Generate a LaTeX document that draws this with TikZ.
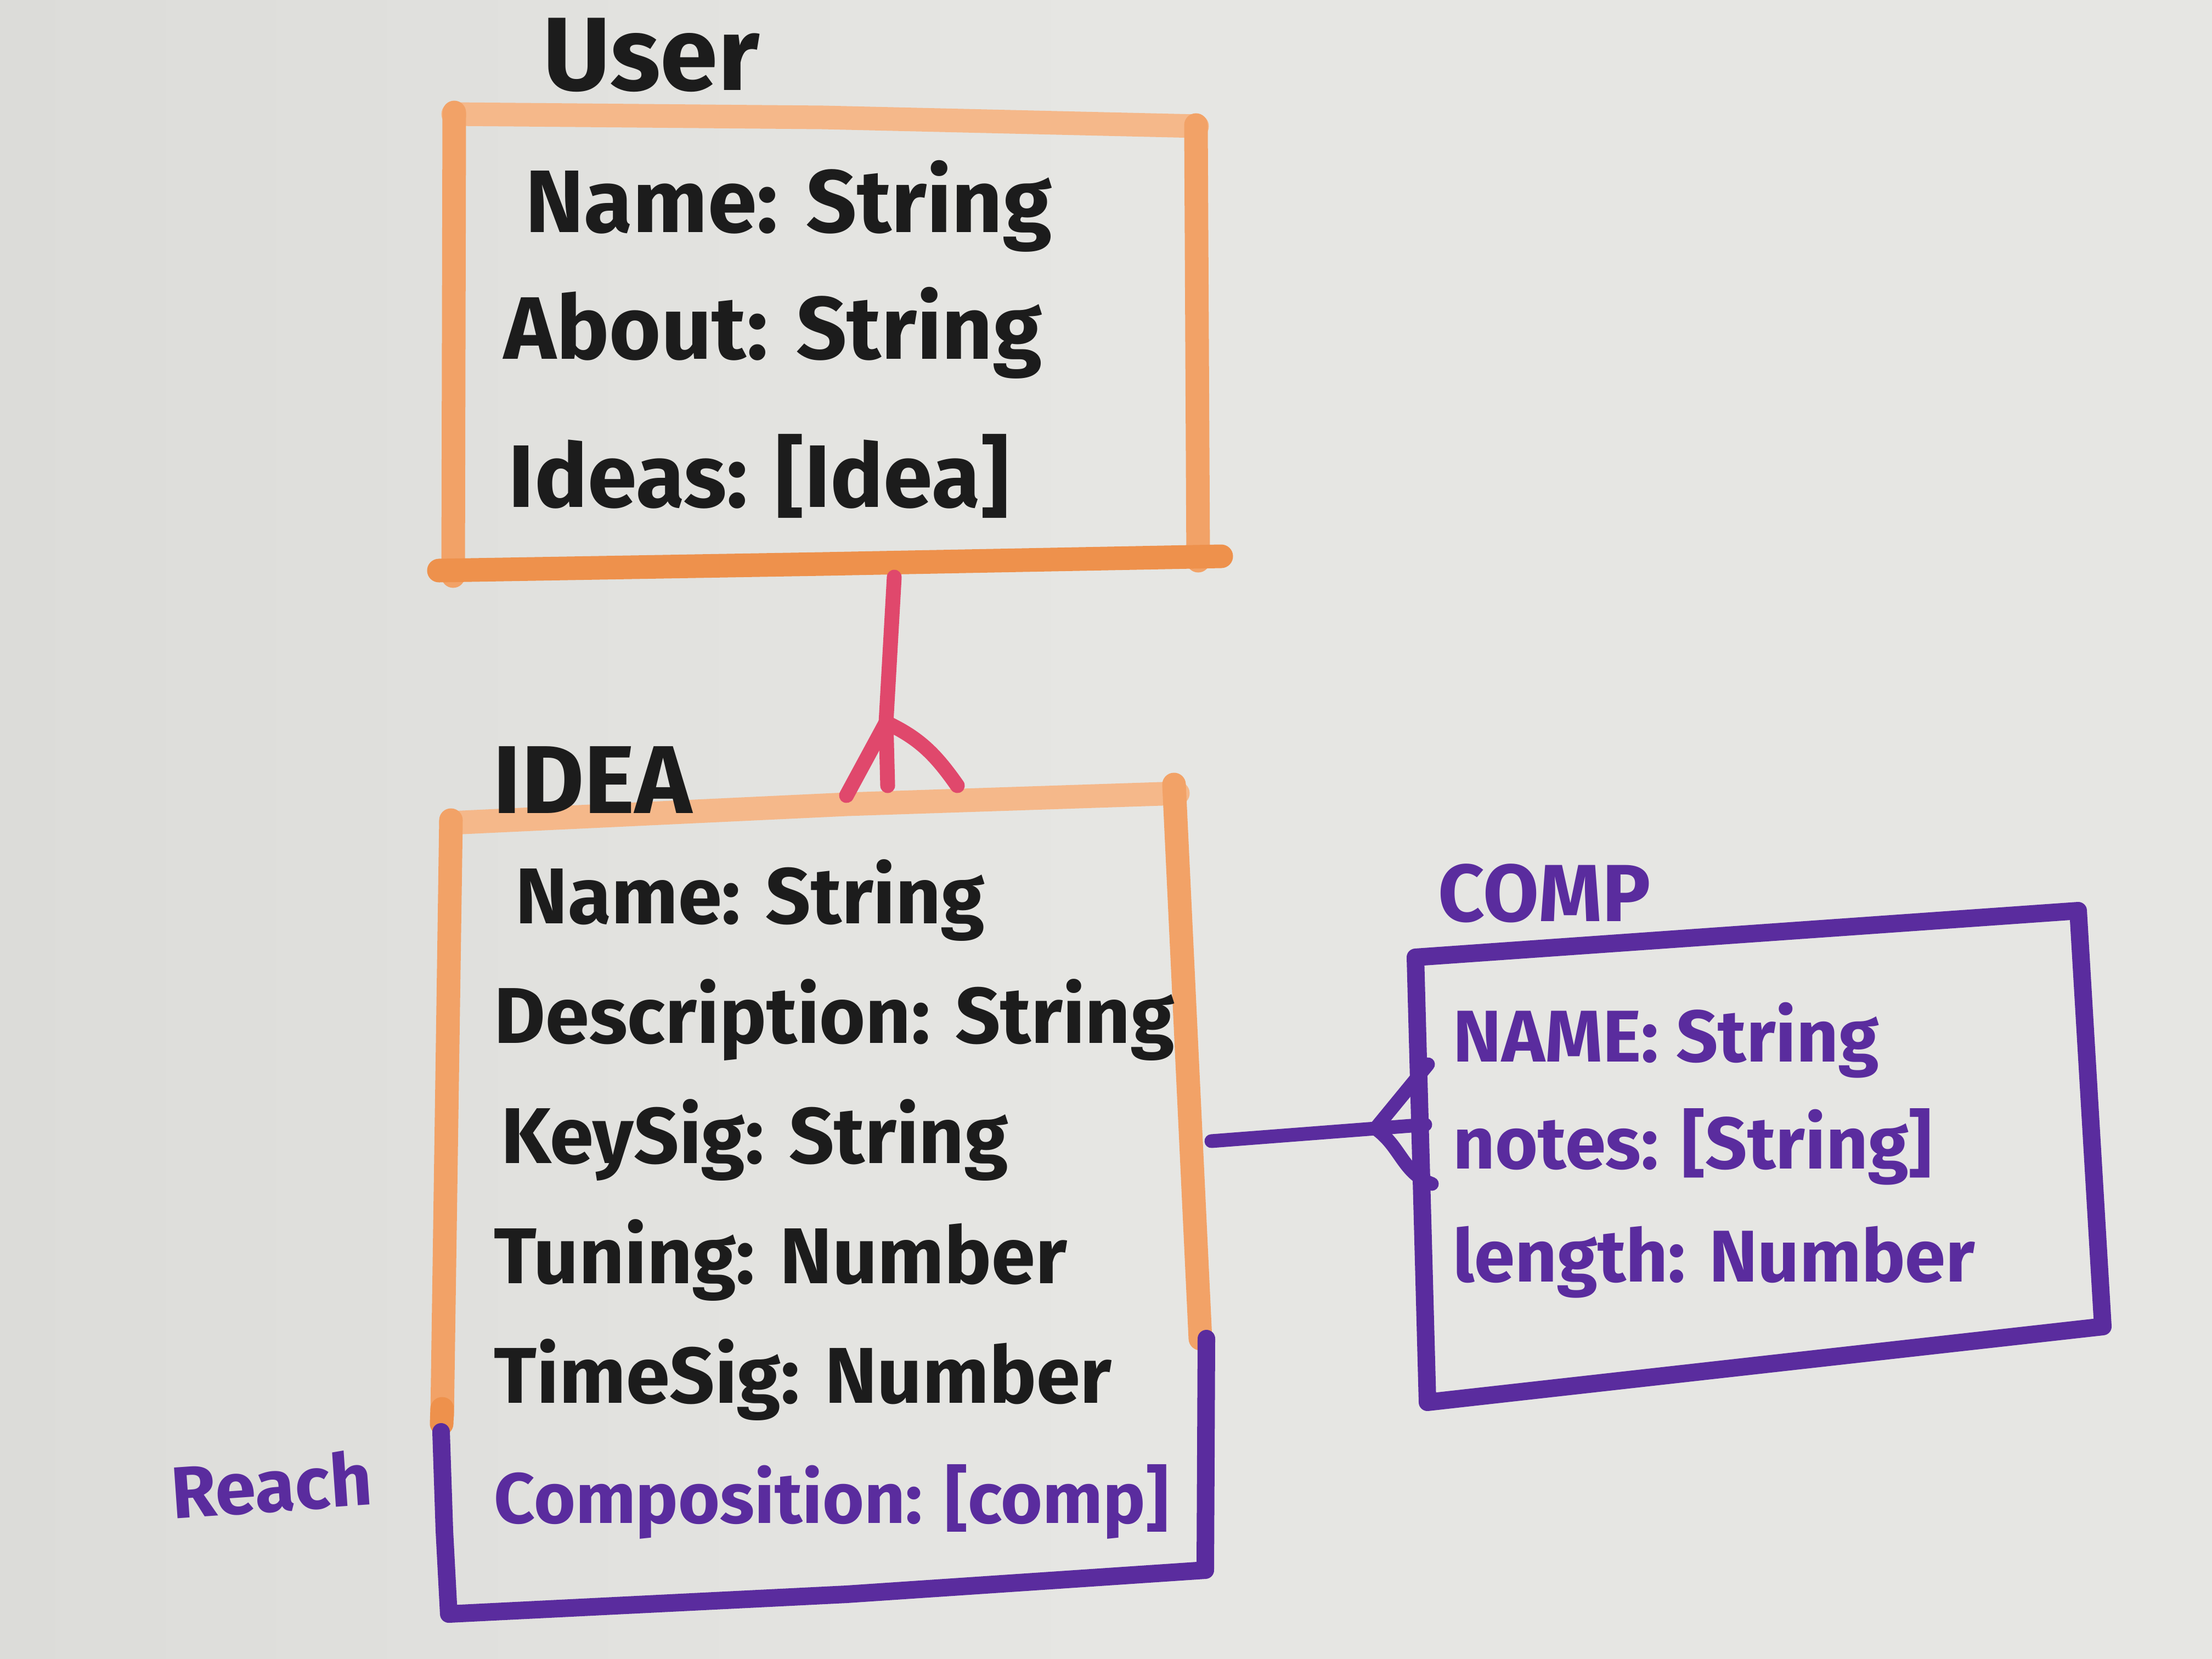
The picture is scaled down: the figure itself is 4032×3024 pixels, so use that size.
\documentclass[tikz,border=0pt]{standalone}
\usepackage{fontspec}
\setmainfont{Fira Sans}
\definecolor{board}{HTML}{E6E6E3}
\definecolor{boardL}{HTML}{DCDCD9}
\definecolor{mkorange}{HTML}{F2A267}
\definecolor{mkorangeL}{HTML}{F5B88A}
\definecolor{mkorangeD}{HTML}{EE914C}
\definecolor{mkpurple}{HTML}{5A2C9E}
\definecolor{mkred}{HTML}{E0486C}
\definecolor{ink}{HTML}{1C1C1C}
\begin{document}
\begin{tikzpicture}[x=0.01cm,y=-0.01cm,
  oline/.style={draw=mkorange, line width=4.3mm, line cap=round, line join=round},
  pline/.style={draw=mkpurple, line width=3.2mm, line cap=round, line join=round},
  pthin/.style={draw=mkpurple, line width=2.5mm, line cap=round, line join=round},
  rline/.style={draw=mkred, line width=2.7mm, line cap=round, line join=round},
  row/.style={anchor=base west, inner sep=0pt, text=ink, font=\bfseries\fontsize{#1}{#1}\selectfont},
  prow/.style={row=#1, text=mkpurple},
  title/.style={anchor=center, inner sep=0pt, text=ink, font=\bfseries\fontsize{#1}{#1}\selectfont},
  ptitle/.style={title=#1, text=mkpurple}]
% background
\shade[left color=boardL, right color=board, middle color=board] (0,0) rectangle (4032,3024);
\useasboundingbox (0,0) rectangle (4032,3024);

% ---------- User box ----------
\draw[oline, draw=mkorangeL] (826,208) -- (1500,214) -- (2182,230);
\draw[oline] (828,205) -- (826,1050);
\draw[oline] (2180,228) -- (2184,1022);
\draw[oline, draw=mkorangeD] (800,1040) -- (1500,1028) -- (2226,1014);

% ---------- Idea box ----------
\draw[oline, draw=mkorangeL] (822,1500) -- (1543,1466) -- (2147,1446);
\draw[oline] (2140,1430) -- (2188,2440);
\draw[oline] (822,1495) -- (806,2580);
\draw[oline, draw=mkorangeD] (806,2568) -- (805,2595);
\draw[pline] (2199,2440) -- (2197,2860);
\draw[pline] (804,2610) -- (810,2790) -- (818,2942) -- (1543,2906) -- (2197,2862);

% ---------- Comp box ----------
\draw[pline] (2580,1745) -- (3788,1660) -- (3833,2418) -- (2602,2556) -- cycle;

% connection points
\coordinate (userS) at (1630,1052);
\coordinate (ideaN) at (1615,1317);
\coordinate (ideaNL) at (1543,1450);
\coordinate (ideaNM) at (1618,1432);
\coordinate (ideaNR) at (1745,1432);
\coordinate (ideaE) at (2208,2080);
\coordinate (compFork) at (2507,2057);
\coordinate (compWU) at (2603,1940);
\coordinate (compWM) at (2598,2050);
\coordinate (compWD) at (2610,2158);

% ---------- connectors ----------
\draw[rline] (userS) -- (ideaN) -- (ideaNM);
\draw[rline] (ideaN) -- (ideaNL);
\draw[rline] (ideaN) to[out=-25,in=125] (ideaNR);

\draw[pthin] (ideaE) -- (compFork) -- (compWM);
\draw[pthin] (compFork) -- (compWU);
\draw[pthin] (compFork) to[out=-35,in=160] (compWD);

% ---------- titles ----------
\node[title=54] (tUser) at (1187,100) {User};
\node[title=50] (tIdea) at (1080,1422) {IDEA};
\node[ptitle=42] (tComp) at (2815,1628) {COMP};
\node[ptitle=38, rotate=4] (tReach) at (495,2706) {Reach};

% ---------- User rows ----------
\node[row=46] (u1) at (957,423) {Name: String};
\node[row=46] (u2) at (918,654) {About: String};
\node[row=46] (u3) at (926,924) {Ideas: [Idea]};

% ---------- Idea rows ----------
\node[row=41] (i1) at (939,1683) {Name: String};
\node[row=41] (i2) at (900,1901) {Description: String};
\node[row=41] (i3) at (913,2120) {KeySig: String};
\node[row=41] (i4) at (900,2339) {Tuning: Number};
\node[row=41] (i5) at (900,2557) {TimeSig: Number};
\node[prow=37] (i6) at (900,2776) {Composition: [comp]};

% ---------- Comp rows ----------
\node[prow=38] (c1) at (2648,1935) {NAME: String};
\node[prow=38] (c2) at (2648,2130) {notes: [String]};
\node[prow=38] (c3) at (2648,2336) {length: Number};
\end{tikzpicture}
\end{document}
